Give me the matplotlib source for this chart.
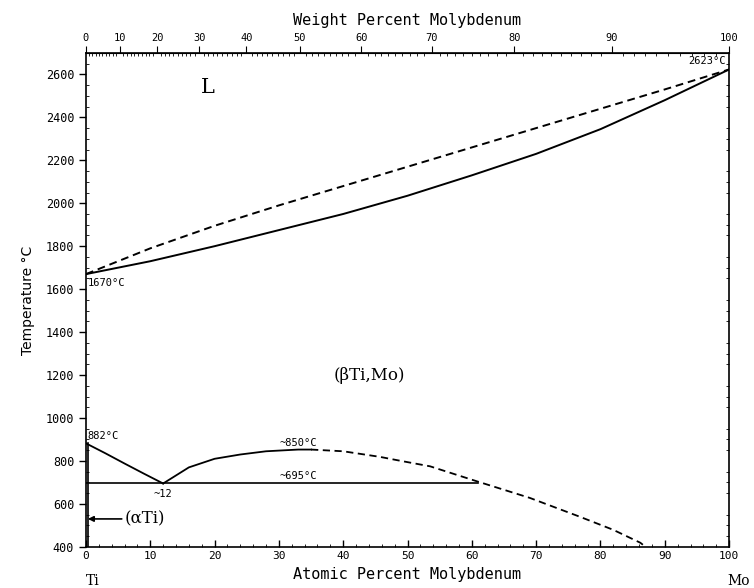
import numpy as np
import matplotlib
matplotlib.use("Agg")
import matplotlib.pyplot as plt
import matplotlib.ticker as ticker

# atomic % Mo vs temperature (deg C)
liq_x = [0, 10, 20, 30, 40, 50, 60, 70, 80, 90, 100]
liq_T = [1670, 1790, 1895, 1990, 2080, 2170, 2260, 2350, 2440, 2530, 2623]
sol_x = [0, 10, 20, 30, 40, 50, 60, 70, 80, 90, 100]
sol_T = [1670, 1730, 1800, 1875, 1950, 2035, 2130, 2230, 2345, 2480, 2623]

transus_x = [0, 3, 6, 9, 12]
transus_T = [882, 836, 788, 741, 695]
gap_x = [12, 16, 20, 24, 28, 33, 35]
gap_T = [695, 770, 810, 830, 845, 853, 853]
gap_dash_x = [35, 40, 45.7, 49, 53.5, 60.8, 69, 76.8, 82, 86.2, 87]
gap_dash_T = [853, 845, 819, 800, 775, 705, 628, 540, 479, 419, 400]
mono_x = [0, 61]
mono_T = [695, 695]
alpha_x = [0.3, 0.3]
alpha_T = [882, 400]

wt_ticks = [0, 10, 20, 30, 40, 50, 60, 70, 80, 90, 100]
M_TI, M_MO = 47.867, 95.95


def wt_to_at(w):
    w = np.asarray(w, dtype=float)
    a = w / M_MO
    b = (100 - w) / M_TI
    return 100 * a / (a + b)


def at_to_wt(x):
    x = np.asarray(x, dtype=float)
    a = x * M_MO
    b = (100 - x) * M_TI
    return 100 * a / (a + b)


mono = "DejaVu Sans Mono"
serif = "DejaVu Serif"

fig, ax = plt.subplots(figsize=(7.54, 5.88), dpi=100)
fig.subplots_adjust(left=0.114, right=0.967, bottom=0.070, top=0.910)

ax.plot(liq_x, liq_T, color="black", lw=1.4, ls=(0, (4, 2.5)))
ax.plot(sol_x, sol_T, color="black", lw=1.4)
ax.plot(transus_x, transus_T, color="black", lw=1.3)
ax.plot(gap_x, gap_T, color="black", lw=1.3)
ax.plot(gap_dash_x, gap_dash_T, color="black", lw=1.3, ls=(0, (4, 2.5)))
ax.plot(mono_x, mono_T, color="black", lw=1.2)
ax.plot(alpha_x, alpha_T, color="black", lw=1.2)

ax.set_xlim(0, 100)
ax.set_ylim(400, 2700)
ax.xaxis.set_major_locator(ticker.MultipleLocator(10))
ax.xaxis.set_minor_locator(ticker.MultipleLocator(2))
ax.yaxis.set_major_locator(ticker.MultipleLocator(200))
ax.yaxis.set_minor_locator(ticker.MultipleLocator(50))
ax.tick_params(axis="x", which="major", direction="in", length=5, width=1,
               labelsize=8, pad=3, top=False)
ax.tick_params(axis="x", which="minor", direction="in", length=2.5, top=False)
ax.tick_params(axis="y", which="major", direction="out", length=5, width=1,
               labelsize=8.5, right=False)
ax.tick_params(axis="y", which="minor", direction="in", length=2.5,
               right=True)
for lab in ax.get_xticklabels() + ax.get_yticklabels():
    lab.set_family(mono)
for s in ax.spines.values():
    s.set_linewidth(1.2)

ax.set_xlabel("Atomic Percent Molybdenum", family=mono, fontsize=11,
              labelpad=4)
ax.set_ylabel("Temperature °C", family="DejaVu Sans", fontsize=10,
              labelpad=8)

top = ax.secondary_xaxis("top", functions=(at_to_wt, wt_to_at))
top.set_xticks(wt_ticks)
top.xaxis.set_minor_locator(ticker.MultipleLocator(1))
top.tick_params(which="major", direction="out", length=5, labelsize=7.5,
                pad=2)
top.tick_params(which="minor", direction="in", length=2.5)
for lab in top.get_xticklabels():
    lab.set_family(mono)
top.set_xlabel("Weight Percent Molybdenum", family=mono, fontsize=11,
               labelpad=6)

ax.text(0, -0.055, "Ti", transform=ax.transAxes, family=serif,
        fontsize=10, ha="left", va="top")
ax.text(0.997, -0.055, "Mo", transform=ax.transAxes, family=serif,
        fontsize=10, ha="left", va="top")

ax.text(19, 2540, "L", family=serif, fontsize=15, ha="center", va="center")
ax.text(44, 1200, "(βTi,Mo)", family=serif, fontsize=12,
        ha="center", va="center")
ax.text(99.5, 2640, "2623°C", family=mono, fontsize=7.5, ha="right",
        va="bottom")
ax.text(0.3, 1650, "1670°C", family=mono, fontsize=7.5, ha="left",
        va="top")
ax.text(0.2, 895, "882°C", family=mono, fontsize=7.5, ha="left",
        va="bottom")
ax.text(33, 860, "~850°C", family=mono, fontsize=7.5, ha="center",
        va="bottom")
ax.text(33, 705, "~695°C", family=mono, fontsize=7.5, ha="center",
        va="bottom")
ax.text(12, 670, "~12", family=mono, fontsize=7.5, ha="center", va="top")
ax.annotate("(αTi)", xy=(0.3, 530), xytext=(6, 530), family=serif,
            fontsize=12, ha="left", va="center",
            arrowprops=dict(arrowstyle="-|>", color="black", lw=1.2,
                            shrinkA=0, shrinkB=0, mutation_scale=8))

plt.savefig("out.png", dpi=100)
